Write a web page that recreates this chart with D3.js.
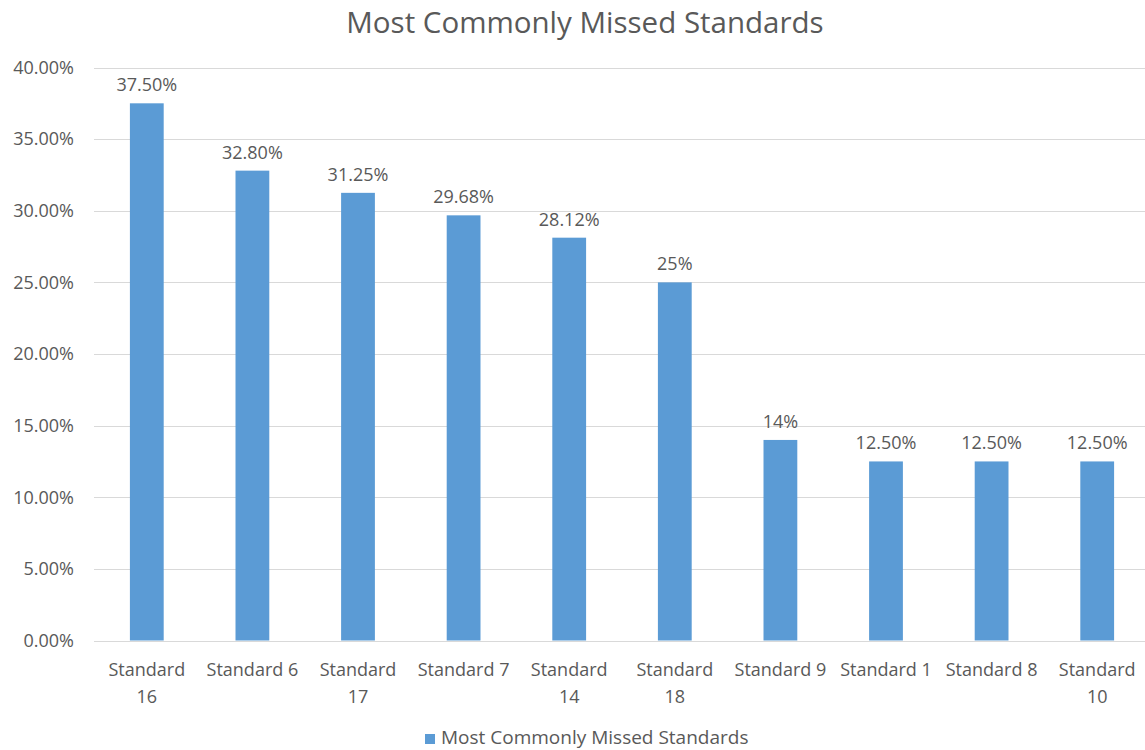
<!DOCTYPE html>
<html>
<head>
<meta charset="utf-8">
<script src="https://cdn.jsdelivr.net/npm/d3@7"></script>
<style>
body { margin: 0; background: #fff; }
text { font-family: "Open Sans", Lato, sans-serif; fill: #595959; }
</style>
</head>
<body>
<svg id="chart" width="1145" height="750"></svg>
<script>
// chart data
var categories = ["Standard 16", "Standard 6", "Standard 17", "Standard 7", "Standard 14",
                  "Standard 18", "Standard 9", "Standard 1", "Standard 8", "Standard 10"];
var values = [37.5, 32.8, 31.25, 29.68, 28.12, 25, 14, 12.5, 12.5, 12.5];
var valueLabels = ["37.50%", "32.80%", "31.25%", "29.68%", "28.12%", "25%", "14%", "12.50%", "12.50%", "12.50%"];
var yTicks = [0, 5, 10, 15, 20, 25, 30, 35, 40];
var seriesName = "Most Commonly Missed Standards";

var svg = d3.select("#chart");
var plotLeft = 94, plotRight = 1150, plotTop = 67.5, plotBottom = 640.5;
var fs = "18px";

var x = d3.scaleBand()
  .domain(categories)
  .range([plotLeft, plotRight])
  .paddingInner(0.68)
  .paddingOuter(0.34);
var y = d3.scaleLinear()
  .domain([0, 40])
  .range([plotBottom, plotTop]);

// gridlines
svg.append("g").selectAll("line")
  .data(yTicks)
  .enter().append("line")
  .attr("x1", plotLeft)
  .attr("x2", plotRight)
  .attr("y1", function(d){return Math.round(y(d)) + 0.5})
  .attr("y2", function(d){return Math.round(y(d)) + 0.5})
  .attr("stroke", "#d9d9d9")
  .attr("stroke-width", 1);

// y labels
svg.append("g").selectAll("text")
  .data(yTicks)
  .enter().append("text")
  .attr("x", 74)
  .attr("y", function(d){return y(d)})
  .attr("dy", "0.35em")
  .attr("text-anchor", "end")
  .style("font-size", fs)
  .text(function(d){return d.toFixed(2) + "%"});

// bars
svg.append("g").selectAll("rect")
  .data(values)
  .enter().append("rect")
  .attr("x", function(d, i){return x(categories[i])})
  .attr("width", x.bandwidth())
  .attr("y", function(d){return y(d)})
  .attr("height", function(d){return y(0) - y(d)})
  .attr("fill", "#5b9bd5");

// data labels
svg.append("g").selectAll("text")
  .data(values)
  .enter().append("text")
  .attr("x", function(d, i){return x(categories[i]) + x.bandwidth() / 2})
  .attr("y", function(d){return y(d) - 12})
  .attr("text-anchor", "middle")
  .style("font-size", fs)
  .text(function(d, i){return valueLabels[i]});

// category labels, two-digit ones wrap onto a second line
var xl = svg.append("g").selectAll("text")
  .data(categories)
  .enter().append("text")
  .attr("x", function(d){return x(d) + x.bandwidth() / 2})
  .attr("y", 676)
  .attr("text-anchor", "middle")
  .style("font-size", fs)
  .text(function(d){return d});
xl.each(function(d){
  var t = d3.select(this);
  var parts = d.split(" ");
  if (parts[1].length > 1) {
    var cx = t.attr("x");
    t.text(null);
    t.append("tspan").attr("x", cx).text(parts[0]);
    t.append("tspan").attr("x", cx).attr("dy", 27).text(parts[1]);
  }
});

// title
svg.append("text")
  .attr("x", 585)
  .attr("y", 33)
  .attr("text-anchor", "middle")
  .style("font-size", "29.5px")
  .text(seriesName);

// legend
var lg = svg.append("g").attr("transform", "translate(425,734)");
lg.append("rect").attr("width", 10).attr("height", 10).attr("fill", "#5b9bd5");
lg.append("text").attr("x", 16).attr("y", 10).style("font-size", "19px").text(seriesName);
</script>
</body>
</html>
